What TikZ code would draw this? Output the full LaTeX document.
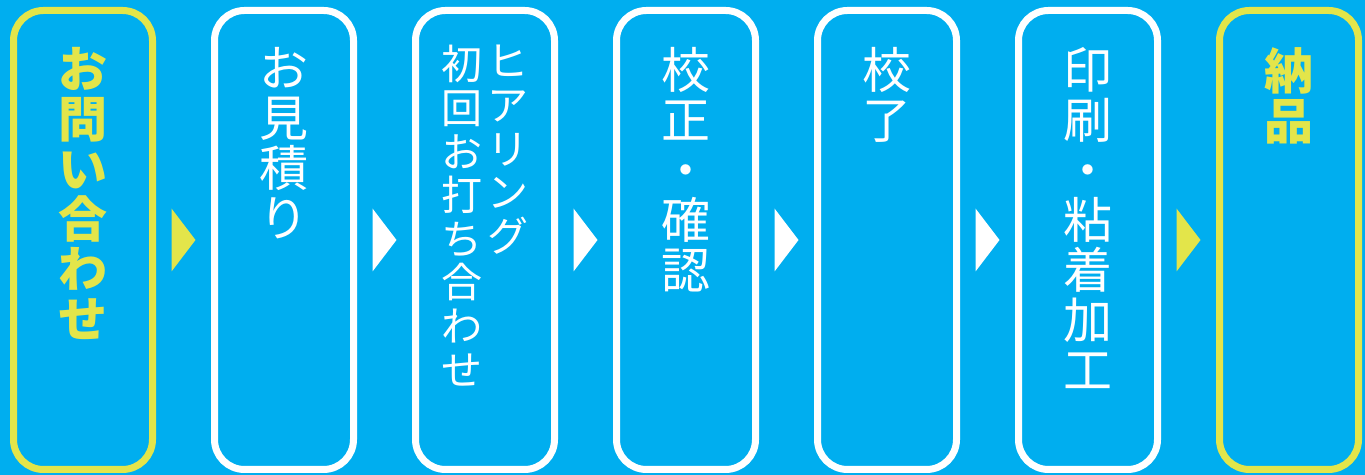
\documentclass[tikz,border=0pt]{standalone}
\usepackage{fontspec}
\newfontfamily\jpfont{Noto Sans CJK JP}
\usetikzlibrary{calc}
\definecolor{skyblue}{RGB}{0,174,239}
\definecolor{lemon}{RGB}{227,229,74}

\begin{document}
\begin{tikzpicture}[x=0.5pt,y=0.5pt,
  stage/.style={draw=white,line width=3.5pt,rounded corners=15pt,minimum width=69.5pt,minimum height=229.5pt,inner sep=0pt},
  steptext/.style={anchor=north,text=white,inner sep=0pt,align=center,font=\jpfont\fontsize{24.5pt}{25pt}\selectfont},
  smalltext/.style={steptext,font=\jpfont\fontsize{20.5pt}{21.8pt}\selectfont},
  goal/.style={draw=lemon},
  goaltext/.style={text=lemon,font=\jpfont\bfseries\fontsize{24.5pt}{25pt}\selectfont}]
\fill[skyblue] (0,0) rectangle (1365,475);
\node[stage,goal]  (a) at (83,235)   {};
\node[stage]       (b) at (284,235)  {};
\node[stage]       (c) at (485,235)  {};
\node[stage]       (d) at (686,235)  {};
\node[stage]       (e) at (887,235)  {};
\node[stage]       (f) at (1088,235) {};
\node[stage,goal]  (g) at (1289,235) {};
\node[steptext,goaltext] (ta)  at (83,428)   {お\\問\\い\\合\\わ\\せ};
\node[steptext]          (tb)  at (284,428)  {お\\見\\積\\り};
\node[smalltext]         (tc1) at (508,430)  {ヒ\\ア\\リ\\ン\\グ};
\node[smalltext]         (tc2) at (462,430)  {初\\回\\お\\打\\ち\\合\\わ\\せ};
\node[steptext]          (td)  at (686,428)  {校\\正\\・\\確\\認};
\node[steptext]          (te)  at (887,428)  {校\\了};
\node[steptext]          (tf)  at (1088,428) {印\\刷\\・\\粘\\着\\加\\工};
\node[steptext,goaltext] (tg)  at (1289,428) {納\\品};
\fill[lemon] ($(a.east)!.5!(b.west)$) +(-12,31.5) -- +(12,0) -- +(-12,-31.5) -- cycle;
\fill[white] ($(b.east)!.5!(c.west)$) +(-12,31.5) -- +(12,0) -- +(-12,-31.5) -- cycle;
\fill[white] ($(c.east)!.5!(d.west)$) +(-12,31.5) -- +(12,0) -- +(-12,-31.5) -- cycle;
\fill[white] ($(d.east)!.5!(e.west)$) +(-12,31.5) -- +(12,0) -- +(-12,-31.5) -- cycle;
\fill[white] ($(e.east)!.5!(f.west)$) +(-12,31.5) -- +(12,0) -- +(-12,-31.5) -- cycle;
\fill[lemon] ($(f.east)!.5!(g.west)$) +(-12,31.5) -- +(12,0) -- +(-12,-31.5) -- cycle;
\end{tikzpicture}
\end{document}
